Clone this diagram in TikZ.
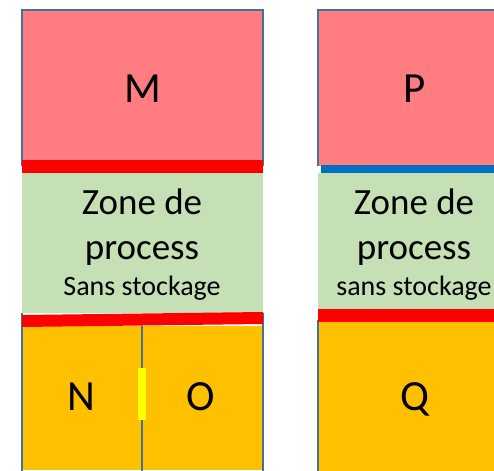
\documentclass[tikz,border=0pt]{standalone}
\usepackage{fontspec}
\setmainfont{Carlito}
\definecolor{boxpink}{RGB}{255,124,128}
\definecolor{zonegreen}{RGB}{197,224,180}
\definecolor{stockorange}{RGB}{255,192,0}
\definecolor{edgeblue}{RGB}{65,113,156}
\definecolor{barblue}{RGB}{0,112,192}
\definecolor{barred}{RGB}{255,0,0}
\definecolor{baryellow}{RGB}{255,255,0}

\begin{document}
\begin{tikzpicture}[x=1pt,y=-1pt,
    letter/.style={anchor=base,font=\fontsize{43}{50}\selectfont},
    zone/.style={anchor=base,font=\fontsize{37}{44}\selectfont},
    note/.style={anchor=base,font=\fontsize{28}{33}\selectfont},
    edge/.style={edgeblue,line width=1.5}]
  \clip (0,0) rectangle (494,470);

  % left column
  \fill[boxpink] (22,10) rectangle (263,166);
  \draw[edge] (22,166) |- (263,10) -- (263,166);
  \fill[zonegreen] (22,173) rectangle (263,313);
  \fill[stockorange] (22,326) rectangle (263,470);
  \draw[edge] (22,313) -- (22,472);
  \draw[edge] (142,326) -- (142,472);
  \draw[edge] (263,313) -- (263,472);
  \fill[barred] (22,160) rectangle (263,173);
  \fill[barred] (22,315) -- (263,312) -- (263,324) -- (22,327) -- cycle;
  \fill[baryellow] (138,368) rectangle (146,420);

  \node[letter] (M) at (143,102.7) {M};
  \node[zone] (zoneM) at (142,214.5) {Zone de};
  \node[zone] (procM) at (142,259) {process};
  \node[note] (sansM) at (142,295.5) {Sans stockage};
  \node[letter] (N) at (81,410) {N};
  \node[letter] (O) at (201,410) {O};

  % right column
  \fill[boxpink] (318,10) rectangle (500,166);
  \draw[edge] (318,166) |- (500,10);
  \fill[barblue] (321,165) rectangle (500,173);
  \fill[zonegreen] (318,173) rectangle (500,309);
  \fill[stockorange] (318,322) rectangle (500,472);
  \draw[edge] (318,320) -- (318,472);
  \fill[barred] (318,309) rectangle (500,322);

  \node[letter] (P) at (415,102.7) {P};
  \node[zone] (zoneP) at (414,214.5) {Zone de};
  \node[zone] (procP) at (414,259) {process};
  \node[note] (sansP) at (414,295.5) {sans stockage};
  \node[letter] (Q) at (415,410) {Q};
\end{tikzpicture}
\end{document}
